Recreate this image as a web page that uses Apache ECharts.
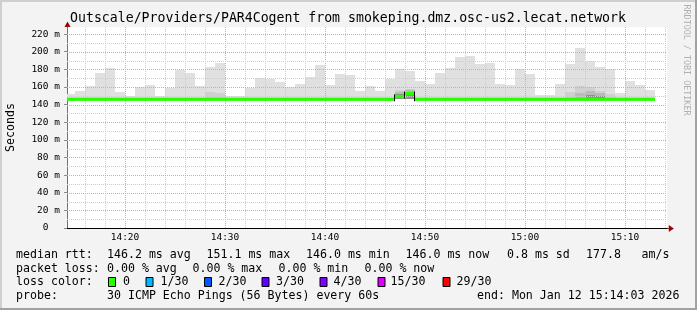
<!DOCTYPE html>
<html>
<head>
<meta charset="utf-8">
<script src="https://cdn.jsdelivr.net/npm/echarts@6.0.0/dist/echarts.min.js"></script>
<style>
html,body{margin:0;padding:0;background:#f3f3f3;}
#chart{width:697px;height:310px;}
</style>
</head>
<body>
<div id="chart"></div>
<script>
// ------------------------------------------------------------------ data
const chartTitle = 'Outscale/Providers/PAR4Cogent from smokeping.dmz.osc-us2.lecat.network';
const yAxisTitle = 'Seconds';
const watermark = 'RRDTOOL / TOBI OETIKER';
const viewStart = '14:14:12';
const viewEnd = '15:14:12';
const xTickLabels = ['14:20', '14:30', '14:40', '14:50', '15:00', '15:10'];
const yTickValues = [0, 20, 40, 60, 80, 100, 120, 140, 160, 180, 200, 220];
const yMax = 228;

const barTimes = [
  '14:14','14:15','14:16','14:17','14:18','14:19','14:20','14:21','14:22','14:23',
  '14:24','14:25','14:26','14:27','14:28','14:29','14:30','14:31','14:32','14:33',
  '14:34','14:35','14:36','14:37','14:38','14:39','14:40','14:41','14:42','14:43',
  '14:44','14:45','14:46','14:47','14:48','14:49','14:50','14:51','14:52','14:53',
  '14:54','14:55','14:56','14:57','14:58','14:59','15:00','15:01','15:02','15:03',
  '15:04','15:05','15:06','15:07','15:08','15:09','15:10','15:11','15:12'
];
// smoke: lowest and highest ping of each step (ms)
const smokeLow = [
  146,146,146,146,146,146,146,146,146,146,
  146,146,146,146,146,146,146,146,146,146,
  146,146,146,146,146,146,146,146,146,146,
  146,146,146,146,146,146,146,146,146,146,
  146,146,146,146,146,146,146,146,146,146,
  146,146,146,146,146,146,146,146,146
];
const smokeHigh = [
  152,155.4,161,176,181.4,154,149.5,160,162,149.5,
  159,179.6,175.8,161,182.6,187,149.5,149.5,159,169.7,
  169,165.6,160,163.3,171,184.8,162,174.6,173.5,155.4,
  161,155,169,180,178,166.7,163.3,175.8,181.4,194,
  195,186,187,163.3,162,180,174.6,150.8,150.8,163.3,
  186,204,189.4,182.6,180.3,153,166.7,162,156.5
];
// denser smoke bands (upper edge, ms) — null where not visible
const smokeMid = [
  null,null,null,null,null,null,null,null,null,null,
  null,null,null,null,154.2,153,null,null,null,null,
  null,null,null,null,null,null,null,null,null,null,
  null,null,null,157,157.6,null,null,null,null,null,
  null,null,null,null,null,null,null,null,null,null,
  154.6,161.4,160,155.4,152,null,null,null,null
];
const smokeDark = [
  null,null,null,null,null,null,null,null,null,null,
  null,null,null,null,null,null,null,null,null,null,
  null,null,null,null,null,null,null,null,null,null,
  null,null,null,154.6,156,null,null,null,null,null,
  null,null,null,null,null,null,null,null,null,null,
  null,152.7,155.4,152.7,null,null,null,null,null
];
const smokeDarker = [
  null,null,null,null,null,null,null,null,null,null,
  null,null,null,null,null,null,null,null,null,null,
  null,null,null,null,null,null,null,null,null,null,
  null,null,null,151.5,154.5,null,null,null,null,null,
  null,null,null,null,null,null,null,null,null,null,
  null,null,151,150,null,null,null,null,null
];
const medianRtt = [
  146,146,146,146,146,146,146,146,146,146,
  146,146,146,146,146,146,146,146,146,146,
  146,146,146,146,146,146,146,146,146,146,
  146,146,146,149.3,152.5,146,146,146,146,146,
  146,146,146,146,146,146,146,146,146,146,
  146,146,146,146,146,146,146,146,146
];

const rttLabel = 'median rtt:';
const rttStats = ['146.2 ms avg', '151.1 ms max', '146.0 ms min', '146.0 ms now', '0.8 ms sd', '177.8', 'am/s'];
const lossLabel = 'packet loss:';
const lossStats = ['0.00 % avg', '0.00 % max', '0.00 % min', '0.00 % now'];
const lossColorLabel = 'loss color:';
const lossLabels = ['0', '1/30', '2/30', '3/30', '4/30', '15/30', '29/30'];
const lossColors = ['#26ff00', '#00b8ff', '#0059ff', '#5e00ff', '#7e00ff', '#dd00ff', '#ff0000'];
const probeLabel = 'probe:';
const probeText = '30 ICMP Echo Pings (56 Bytes) every 60s';
const endText = 'end: Mon Jan 12 15:14:03 2026';

// ------------------------------------------------------------------ layout / style
const STEP_MIN = 1;
const MONO = '"DejaVu Sans Mono", "Liberation Mono", monospace';
const LEG_FONT = '11.6px ' + MONO;
const GRID_MINOR = '#cdcdcd';
const GRID_MAJOR = '#e9a0a0';
const rttX = [107, 206.5, 306, 405.5, 507, 586, 641.5];
const lossX = [107, 192.5, 278.5, 364.5];
const boxX = [108, 145.5, 204, 261.5, 319.5, 377.5, 442.5];
const boxLabelX = [123, 160.5, 218.5, 276, 333.5, 390.5, 456.5];
const lineY = [254.5, 268.5, 282.3, 296.2];

function toMin(t) {
  const p = t.split(':').map(Number);
  return p[0] * 60 + p[1] + (p[2] || 0) / 60;
}
function fmtMin(v) {
  const h = Math.floor(v / 60), m = Math.round(v - h * 60);
  return String(h).padStart(2, '0') + ':' + String(m).padStart(2, '0');
}
const X_MIN = toMin(viewStart), X_MAX = toMin(viewEnd);

function rectRenderer(color) {
  return function (params, api) {
    const p1 = api.coord([api.value(0), api.value(3)]);
    const p2 = api.coord([api.value(1), api.value(2)]);
    const x1 = Math.round(p1[0]), x2 = Math.round(p2[0]);
    const y1 = Math.round(p1[1]), y2 = Math.round(p2[1]);
    return { type: 'rect', shape: { x: x1, y: y1, width: x2 - x1, height: y2 - y1 }, style: { fill: color } };
  };
}
function smokeData(highArr) {
  const out = [];
  barTimes.forEach((t, i) => {
    if (highArr[i] != null) out.push([toMin(t), toMin(t) + STEP_MIN, smokeLow[i], highArr[i]]);
  });
  return out;
}
function smokeSeries(name, arr, color) {
  return {
    type: 'custom', name: name, z: 2, clip: true, silent: true,
    renderItem: rectRenderer(color),
    encode: { x: [0, 1], y: [2, 3] },
    data: smokeData(arr)
  };
}

const vGridData = [];
for (let m = Math.ceil(X_MIN / 2) * 2; m <= X_MAX; m += 2) vGridData.push([m, 0, m % 10 === 0 ? 1 : 0]);
const hGridData = [];
for (let v = 10; v <= yMax; v += 10) hGridData.push([X_MIN, v, v % 20 === 0 ? 1 : 0]);

const medianData = barTimes.map((t, i) => [toMin(t), toMin(t) + STEP_MIN, medianRtt[i], i > 0 ? medianRtt[i - 1] : medianRtt[i]]);

const chart = echarts.init(document.getElementById('chart'), null, { renderer: 'canvas', width: 697, height: 310 });

const graphics = [
  // frame
  { type: 'rect', shape: { x: 0, y: 0, width: 697, height: 2 }, style: { fill: '#cfcfcf' }, silent: true },
  { type: 'rect', shape: { x: 0, y: 0, width: 2, height: 310 }, style: { fill: '#cfcfcf' }, silent: true },
  { type: 'rect', shape: { x: 695, y: 0, width: 2, height: 310 }, style: { fill: '#a2a2a2' }, silent: true },
  { type: 'rect', shape: { x: 0, y: 308, width: 697, height: 2 }, style: { fill: '#a2a2a2' }, silent: true },
  // title
  { type: 'text', x: 348, y: 19, silent: true,
    style: { text: chartTitle, font: '13.2px ' + MONO, fill: '#000', align: 'center', verticalAlign: 'middle', textAlign: 'center', textVerticalAlign: 'middle' } },
  // y axis title
  { type: 'text', x: 10.5, y: 127.5, rotation: Math.PI / 2, silent: true,
    style: { text: yAxisTitle, font: LEG_FONT, fill: '#000', align: 'center', verticalAlign: 'middle', textAlign: 'center', textVerticalAlign: 'middle' } },
  // watermark
  { type: 'text', x: 686.5, y: 60, rotation: -Math.PI / 2, silent: true,
    style: { text: watermark, font: '8.4px ' + MONO, fill: '#b0b0b0', align: 'center', verticalAlign: 'middle', textAlign: 'center', textVerticalAlign: 'middle' } },
  // axis arrows
  { type: 'polygon', silent: true, shape: { points: [[667, 228.5], [669, 228.5], [669, 225.5], [673.5, 228.5], [669, 231.5], [669, 228.5]] }, style: { fill: '#990000', stroke: '#990000', lineWidth: 0.5 } },
  { type: 'polygon', silent: true, shape: { points: [[64.5, 27], [67.5, 21.5], [70.5, 27]] }, style: { fill: '#990000' } }
];
function legText(text, x, y) {
  graphics.push({ type: 'text', x: x, y: y, silent: true,
    style: { text: text, font: LEG_FONT, fill: '#000', align: 'left', verticalAlign: 'middle', textAlign: 'left', textVerticalAlign: 'middle' } });
}
legText(rttLabel, 16, lineY[0]);
rttStats.forEach((s, i) => legText(s, rttX[i], lineY[0]));
legText(lossLabel, 16, lineY[1]);
lossStats.forEach((s, i) => legText(s, lossX[i], lineY[1]));
legText(lossColorLabel, 16, lineY[2]);
lossLabels.forEach((s, i) => {
  graphics.push({ type: 'rect', silent: true, shape: { x: boxX[i] + 0.5, y: lineY[2] - 4.8, width: 7, height: 9 },
    style: { fill: lossColors[i], stroke: '#000', lineWidth: 1 } });
  legText(s, boxLabelX[i], lineY[2]);
});
legText(probeLabel, 16, lineY[3]);
legText(probeText, 107, lineY[3]);
legText(endText, 477, lineY[3]);

const option = {
  animation: false,
  backgroundColor: '#f3f3f3',
  grid: { left: 67, right: 30, top: 27, bottom: 82, show: true, backgroundColor: '#ffffff', borderWidth: 0 },
  xAxis: {
    type: 'value', min: X_MIN, max: X_MAX,
    axisLine: { show: true, onZero: false, lineStyle: { color: '#000', width: 1 } },
    axisTick: { show: false },
    splitLine: { show: false },
    axisLabel: {
      customValues: xTickLabels.map(toMin),
      formatter: v => fmtMin(v),
      fontFamily: MONO, fontSize: 9.5, color: '#000', margin: 5
    }
  },
  yAxis: {
    type: 'value', min: 0, max: yMax,
    axisLine: { show: true, lineStyle: { color: '#707070', width: 1 } },
    axisTick: { show: true, customValues: yTickValues, length: 3, lineStyle: { color: '#8a8a8a' } },
    splitLine: { show: false },
    axisLabel: {
      customValues: yTickValues,
      formatter: v => (v === 0 ? '0  ' : v + ' m'),
      fontFamily: MONO, fontSize: 9.5, color: '#000', margin: 7
    }
  },
  graphic: graphics,
  series: [
    smokeSeries('smoke', smokeHigh, '#e0e0e0'),
    smokeSeries('smoke-mid', smokeMid, '#d0d0d0'),
    smokeSeries('smoke-dark', smokeDark, '#bababa'),
    smokeSeries('smoke-darker', smokeDarker, '#8e8e8e'),
    {
      type: 'custom', name: 'vgrid', z: 3, silent: true, clip: true,
      encode: { x: 0, y: 1 },
      data: vGridData,
      renderItem: function (params, api) {
        const cs = params.coordSys;
        const x = Math.round(api.coord([api.value(0), 0])[0]) + 0.5;
        return { type: 'line', shape: { x1: x, y1: cs.y, x2: x, y2: cs.y + cs.height },
          style: { stroke: api.value(2) === 1 ? GRID_MAJOR : GRID_MINOR, lineWidth: 1, lineDash: [1, 1] } };
      }
    },
    {
      type: 'custom', name: 'hgrid', z: 3, silent: true, clip: true,
      encode: { x: 0, y: 1 },
      data: hGridData,
      renderItem: function (params, api) {
        const cs = params.coordSys;
        const y = Math.round(api.coord([X_MIN, api.value(1)])[1]) + 0.5;
        return { type: 'line', shape: { x1: cs.x, y1: y, x2: cs.x + cs.width, y2: y },
          style: { stroke: api.value(2) === 1 ? GRID_MAJOR : GRID_MINOR, lineWidth: 1, lineDash: [1, 1] } };
      }
    },
    {
      type: 'custom', name: 'median rtt', z: 4, silent: true, clip: true,
      encode: { x: [0, 1], y: 2 },
      data: medianData,
      renderItem: function (params, api) {
        const p1 = api.coord([api.value(0), api.value(2)]);
        const p2 = api.coord([api.value(1), api.value(2)]);
        const x1 = Math.round(p1[0]), x2 = Math.round(p2[0]);
        const yc = p1[1];
        const children = [{ type: 'rect', shape: { x: x1, y: yc - 1.6, width: x2 - x1, height: 3.2 }, style: { fill: lossColors[0] } }];
        const prev = api.value(3);
        if (prev !== api.value(2)) {
          const yp = api.coord([api.value(0), prev])[1];
          children.push({ type: 'line', shape: { x1: x1 - 0.5, y1: Math.min(yc, yp) - 2, x2: x1 - 0.5, y2: Math.max(yc, yp) + 2 }, style: { stroke: '#000', lineWidth: 1 } });
        }
        return { type: 'group', children: children };
      }
    }
  ]
};
chart.setOption(option);
</script>
</body>
</html>
